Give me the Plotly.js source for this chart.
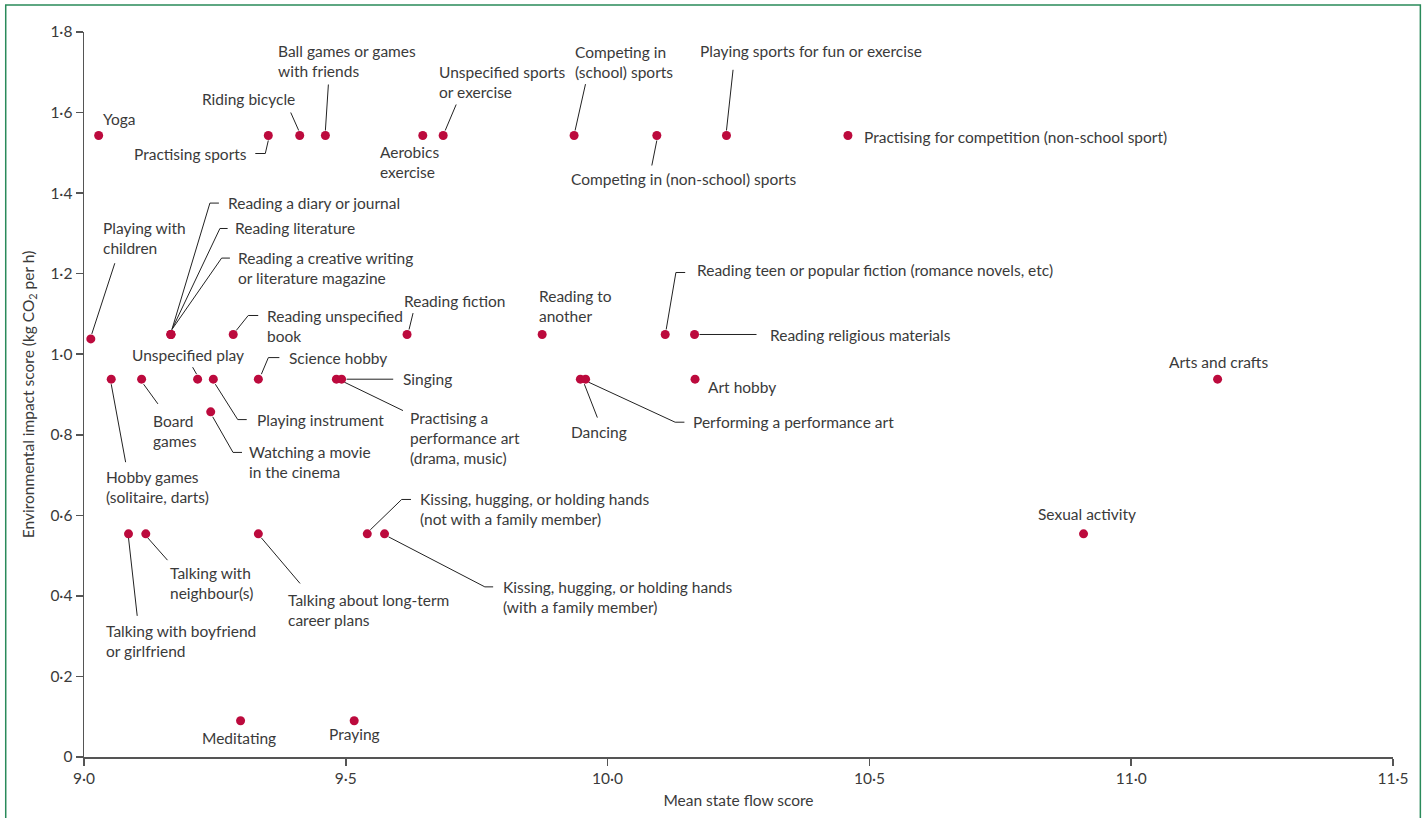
<!DOCTYPE html>
<html>
<head>
<meta charset="utf-8">
<script src="https://cdn.plot.ly/plotly-3.0.1.min.js"></script>
<style>html,body{margin:0;padding:0;background:#fff;}#chart{width:1424px;height:818px;}</style>
</head>
<body>
<div id="chart"></div>
<script>
// ---------- DATA ----------
const activities = [
  "Yoga",
  "Practising sports",
  "Riding bicycle",
  "Ball games or games with friends",
  "Aerobics exercise",
  "Unspecified sports or exercise",
  "Competing in (school) sports",
  "Competing in (non-school) sports",
  "Playing sports for fun or exercise",
  "Practising for competition (non-school sport)",
  "Playing with children",
  "Reading a diary or journal",
  "Reading literature",
  "Reading a creative writing or literature magazine",
  "Reading unspecified book",
  "Reading fiction",
  "Reading to another",
  "Reading teen or popular fiction (romance novels, etc)",
  "Reading religious materials",
  "Unspecified play",
  "Hobby games (solitaire, darts)",
  "Board games",
  "Playing instrument",
  "Watching a movie in the cinema",
  "Science hobby",
  "Practising a performance art (drama, music)",
  "Singing",
  "Dancing",
  "Performing a performance art",
  "Art hobby",
  "Arts and crafts",
  "Sexual activity",
  "Talking with boyfriend or girlfriend",
  "Talking with neighbour(s)",
  "Talking about long-term career plans",
  "Kissing, hugging, or holding hands (not with a family member)",
  "Kissing, hugging, or holding hands (with a family member)",
  "Meditating",
  "Praying"
];
const flowScore = [
  9.028, 9.352, 9.412, 9.461, 9.647, 9.686, 9.936, 10.094, 10.227, 10.459,
  9.013, 9.166, 9.166, 9.166, 9.285, 9.617, 9.875, 10.110, 10.166,
  9.217, 9.052, 9.110, 9.247, 9.242, 9.333, 9.482, 9.492, 9.948, 9.958, 10.167, 11.165,
  10.909, 9.085, 9.118, 9.333, 9.541, 9.574,
  9.299, 9.516
];
const impactScore = [
  1.543, 1.543, 1.543, 1.543, 1.543, 1.543, 1.543, 1.543, 1.543, 1.543,
  1.038, 1.049, 1.049, 1.049, 1.049, 1.049, 1.049, 1.049, 1.049,
  0.938, 0.938, 0.938, 0.938, 0.857, 0.938, 0.938, 0.938, 0.938, 0.938, 0.938, 0.938,
  0.554, 0.554, 0.554, 0.554, 0.554, 0.554,
  0.090, 0.090
];
const xTickVals = [9, 9.5, 10, 10.5, 11, 11.5];
const xTickText = ["9·0", "9·5", "10·0", "10·5", "11·0", "11·5"];
const yTickVals = [0, 0.2, 0.4, 0.6, 0.8, 1.0, 1.2, 1.4, 1.6, 1.8];
const yTickText = ["0", "0·2", "0·4", "0·6", "0·8", "1·0", "1·2", "1·4", "1·6", "1·8"];

// ---------- LABEL PLACEMENT (pixel offsets from each dot; y positive = down) ----------
const labelPlacement = [
  {a:"left",  dx:2,    dy:-17},
  {a:"right", dx:-19,  dy:18,   leader:[[0,5],[-3,18],[-13,18]]},
  {a:"right", dx:-3,   dy:-37,  leader:[[-1,-5],[-9,-23]]},
  {a:"left",  dx:-49,  dy:-74.7, wrap:[4], leader:[[0,-5],[3,-51]]},
  {a:"left",  dx:-44.7,dy:26.3, wrap:[1]},
  {a:"left",  dx:-6.3, dy:-53.7, wrap:[2], leader:[[2,-5],[13,-31]]},
  {a:"left",  dx:-1,   dy:-74,  wrap:[2], leader:[[1,-5],[11.4,-51.4]]},
  {a:"left",  dx:-87.7,dy:43.3, leader:[[0,5],[-5,30]]},
  {a:"left",  dx:-28.4,dy:-84.7, leader:[[0,-5],[6.6,-65.7]]},
  {a:"left",  dx:13.6, dy:1},
  {a:"left",  dx:9.7,  dy:-101, wrap:[2], leader:[[1,-5],[24,-75.7]]},
  {a:"left",  dx:55.3, dy:-131.4, leader:[[1,-5],[39,-131.4],[48,-131.4]]},
  {a:"left",  dx:62.3, dy:-106, leader:[[1,-5],[49,-106],[56.7,-106]]},
  {a:"left",  dx:65.3, dy:-66.4, wrap:[4], leader:[[1,-5],[50.7,-76.4],[59,-76.4]]},
  {a:"left",  dx:31.4, dy:-8.7, wrap:[2], leader:[[3,-4],[15,-19],[25,-19]]},
  {a:"left",  dx:-5,   dy:-33, leader:[[2,-5],[6,-21.4]]},
  {a:"left",  dx:-5,   dy:-28.5, wrap:[2]},
  {a:"left",  dx:29.4, dy:-64, leader:[[1,-5],[10.7,-62],[20,-62]]},
  {a:"left",  dx:73,   dy:1,   leader:[[5,0],[62,0]]},
  {a:"center",dx:-10,  dy:-24.3, leader:[[-5,-12],[-1,-5]]},
  {a:"left",  dx:-7.3, dy:108.2, wrap:[2], leader:[[0,5],[14.4,83]]},
  {a:"left",  dx:9.3,  dy:51.7, wrap:[1], leader:[[2,5],[16.3,24.7]]},
  {a:"left",  dx:41.7, dy:40.4, leader:[[2,5],[24.4,40.4],[33.4,40.4]]},
  {a:"left",  dx:36.3, dy:50.2, wrap:[3], leader:[[2,5],[22.3,40.6],[31.3,40.6]]},
  {a:"left",  dx:29,   dy:-21.6, leader:[[3,-5],[10,-21.6],[21,-21.6]]},
  {a:"left",  dx:71.3, dy:58.7, wrap:[2,4], leader:[[8,3],[66.6,31.4]]},
  {a:"left",  dx:59.6, dy:0,   leader:[[5,0],[51.6,0]]},
  {a:"center",dx:18.3, dy:52.7, leader:[[4,5],[17,38.4]]},
  {a:"left",  dx:105.8,dy:43,  leader:[[3,3],[89.5,43],[98.8,43]]},
  {a:"left",  dx:11,   dy:7.7},
  {a:"center",dx:1.3,  dy:-17.3},
  {a:"center",dx:3,    dy:-19.7},
  {a:"left",  dx:-25,  dy:106.8, wrap:[3], leader:[[0,4],[8.7,82]]},
  {a:"left",  dx:22.7, dy:49.1, wrap:[2], leader:[[2,4],[21.7,26.3]]},
  {a:"left",  dx:27.4, dy:76.6, wrap:[3], leader:[[3,4],[41.7,49.6]]},
  {a:"left",  dx:51,   dy:-24.9, wrap:[5], leader:[[3,-4],[34.4,-34.4],[43.7,-34.4]]},
  {a:"left",  dx:116,  dy:63.5, wrap:[5], leader:[[4,3],[100.3,53],[108.6,53]]},
  {a:"center",dx:-1.4, dy:17.4},
  {a:"center",dx:0,    dy:13.7}
];

const FONT = "Lato, 'Open Sans', sans-serif";
const FS = 15.5;
const TEXT_COLOR = "#3a3a3a";
const DOT_COLOR = "#bc0a3d";

function wrapText(name, wrap) {
  if (!wrap) return name;
  const w = name.split(" ");
  const lines = [];
  let start = 0;
  wrap.concat([w.length]).forEach(end => { lines.push(w.slice(start, end).join(" ")); start = end; });
  return lines.join("<br>");
}

const annotations = [];
const shapes = [];
activities.forEach((name, i) => {
  const p = labelPlacement[i];
  annotations.push({
    x: flowScore[i], y: impactScore[i], xref: "x", yref: "y",
    text: wrapText(name, p.wrap), showarrow: false,
    xanchor: p.a, yanchor: "middle", align: p.a === "center" ? "center" : "left",
    xshift: p.dx, yshift: -p.dy,
    font: {family: FONT, size: FS, color: TEXT_COLOR}
  });
  if (p.leader) {
    const path = p.leader.map((pt, k) => (k ? "L" : "M") + pt[0] + "," + (-pt[1])).join(" ");
    shapes.push({
      type: "path", xref: "x", yref: "y",
      xsizemode: "pixel", ysizemode: "pixel",
      xanchor: flowScore[i], yanchor: impactScore[i],
      path: path, layer: "below",
      line: {color: "#222", width: 1}
    });
  }
});

// outer green frame
shapes.push({
  type: "rect", xref: "paper", yref: "paper",
  x0: -0.0598, x1: 1.0209, y0: -0.15, y1: 1.0373,
  line: {color: "#2a8a5a", width: 1.5}, fillcolor: "rgba(0,0,0,0)", layer: "above"
});

const trace = {
  type: "scatter", mode: "markers",
  x: flowScore, y: impactScore, text: activities,
  hoverinfo: "text",
  marker: {color: DOT_COLOR, size: 9, line: {width: 0}},
  cliponaxis: false
};

const layout = {
  width: 1424, height: 818,
  margin: {l: 84, r: 31, t: 32, b: 61, pad: 0},
  paper_bgcolor: "#fff", plot_bgcolor: "#fff",
  showlegend: false,
  font: {family: FONT, size: FS, color: TEXT_COLOR},
  xaxis: {
    range: [9, 11.5], tickvals: xTickVals, ticktext: xTickText,
    showgrid: false, zeroline: false, showline: true, linecolor: "#555", linewidth: 1.5,
    ticks: "outside", ticklen: 7, tickcolor: "#555", tickwidth: 1.5,
    tickfont: {family: FONT, size: FS, color: TEXT_COLOR},
    title: {text: "Mean state flow score", standoff: 9, font: {family: FONT, size: FS, color: TEXT_COLOR}},
    automargin: false
  },
  yaxis: {
    range: [0, 1.8], tickvals: yTickVals, ticktext: yTickText,
    showgrid: false, zeroline: false, showline: true, linecolor: "#555", linewidth: 1.5,
    ticks: "outside", ticklen: 7, tickcolor: "#555", tickwidth: 1.5,
    tickfont: {family: FONT, size: FS, color: TEXT_COLOR},
    title: {text: "Environmental impact score (kg CO<sub>2</sub> per h)", standoff: 12, font: {family: FONT, size: FS, color: TEXT_COLOR}},
    automargin: false
  },
  annotations: annotations,
  shapes: shapes
};

Plotly.newPlot("chart", [trace], layout, {displayModeBar: false, staticPlot: true});
</script>
</body>
</html>
